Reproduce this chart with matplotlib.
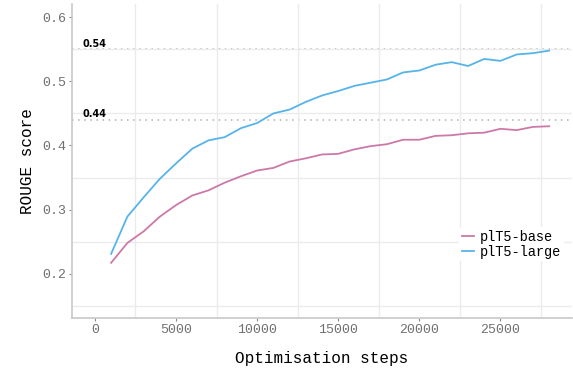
import matplotlib
matplotlib.use("Agg")
import matplotlib.pyplot as plt
import numpy as np

steps = list(range(1000, 29000, 1000))

large = [0.231, 0.289, 0.319, 0.348, 0.372, 0.395, 0.408, 0.413, 0.427, 0.435,
         0.450, 0.456, 0.468, 0.478, 0.485, 0.493, 0.498, 0.503, 0.514, 0.517,
         0.526, 0.530, 0.524, 0.535, 0.532, 0.542, 0.544, 0.548]
base = [0.217, 0.248, 0.266, 0.289, 0.307, 0.322, 0.330, 0.342, 0.352, 0.361,
        0.365, 0.375, 0.380, 0.386, 0.387, 0.394, 0.399, 0.402, 0.409, 0.409,
        0.415, 0.416, 0.419, 0.420, 0.426, 0.424, 0.429, 0.430]

ref_lines = [0.55, 0.44]
ref_labels = ["0.54", "0.44"]

mono = "Liberation Mono"

fig = plt.figure(figsize=(5.73, 3.71), dpi=100)
ax = fig.add_axes([0.126, 0.143, 0.872, 0.845])

ax.plot(steps, base, color="#CC79A7", lw=1.3, label="plT5-base")
ax.plot(steps, large, color="#56B4E9", lw=1.3, label="plT5-large")

for y, lab in zip(ref_lines, ref_labels):
    ax.axhline(y, color="#b0b0b0", ls=(0, (1, 3)), lw=1.1, zorder=1)
    ax.text(0, y + 0.001, lab, ha="center", va="bottom", fontsize=7,
            fontweight="bold", color="black")

ax.set_xlim(-1400, 29400)
ax.set_ylim(0.131, 0.62)
ax.set_xticks([0, 5000, 10000, 15000, 20000, 25000])
ax.set_yticks([0.2, 0.3, 0.4, 0.5, 0.6])
ax.set_xticks(np.arange(2500, 29000, 5000), minor=True)
ax.set_yticks([0.15, 0.25, 0.35, 0.45, 0.55], minor=True)
ax.grid(which="minor", color="#ebebeb", lw=1)
ax.grid(which="major", visible=False)
ax.tick_params(which="minor", length=0)
ax.tick_params(which="major", length=2.5, color="#888888", labelcolor="#707070",
               labelsize=9.5, pad=2)
for lab in ax.get_xticklabels() + ax.get_yticklabels():
    lab.set_family(mono)

for s in ["top", "right"]:
    ax.spines[s].set_visible(False)
for s in ["left", "bottom"]:
    ax.spines[s].set_color("#c8c8c8")
    ax.spines[s].set_linewidth(1.2)

ax.set_xlabel("Optimisation steps", family=mono, fontsize=11.5, labelpad=11)
ax.set_ylabel("ROUGE score", family=mono, fontsize=11.5, labelpad=5)

ax.legend(loc="center left", bbox_to_anchor=(0.761, 0.235), frameon=True,
          framealpha=1, edgecolor="none", facecolor="white",
          prop={"family": mono, "size": 9.8}, handlelength=0.9,
          handletextpad=0.4, labelspacing=0.05, borderpad=0.2)

fig.savefig("out.png", dpi=100)
